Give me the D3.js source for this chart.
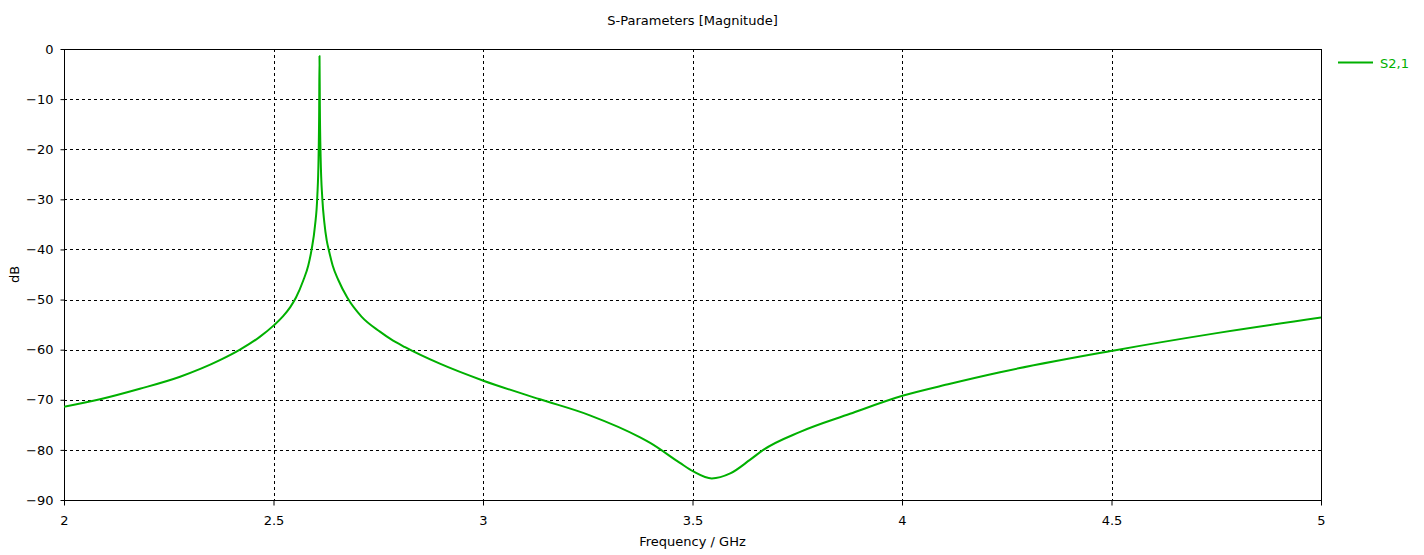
<!DOCTYPE html>
<html>
<head>
<meta charset="utf-8">
<script src="https://cdn.jsdelivr.net/npm/d3@7"></script>
<style>
  html, body { margin: 0; padding: 0; background: #fff; }
  svg text { font-family: "DejaVu Sans", Verdana, sans-serif; font-size: 13px; fill: #000; }
</style>
</head>
<body>
<svg id="chart" width="1424" height="555"></svg>
<script>
const title = "S-Parameters [Magnitude]";
const xLabel = "Frequency / GHz";
const yLabel = "dB";
const seriesName = "S2,1";
const xTicks = [2, 2.5, 3, 3.5, 4, 4.5, 5];
const yTicks = [0, -10, -20, -30, -40, -50, -60, -70, -80, -90];

const freqGHz = [
  2.000, 2.086, 2.181, 2.277, 2.372, 2.420, 2.468, 2.500, 2.523, 2.540,
  2.5537, 2.571, 2.583, 2.591, 2.599, 2.6045, 2.6075, 2.609, 2.6098, 2.6106,
  2.6125, 2.6165, 2.6213, 2.627, 2.6325, 2.6412, 2.6547, 2.676, 2.710, 2.754,
  2.780, 2.814, 2.897, 3.001, 3.136, 3.255, 3.375, 3.399, 3.470, 3.502,
  3.546, 3.590, 3.637, 3.669, 3.757, 3.876, 4.001, 4.115, 4.234, 4.503,
  4.751, 5.000
];
const s21dB = [
  -71.4, -69.9, -67.8, -65.4, -62.1, -60.0, -57.4, -55.2, -53.3, -51.5,
  -49.6, -46.2, -43.2, -40.0, -35.3, -29.5, -21.8, -12.3, -1.4, -11.2,
  -21.6, -29.8, -34.6, -38.2, -40.3, -43.2, -46.1, -49.6, -53.4, -56.4,
  -57.9, -59.5, -62.8, -66.2, -69.9, -73.1, -77.5, -78.6, -82.6, -84.3,
  -85.7, -84.7, -82.0, -80.0, -76.4, -72.8, -69.2, -66.8, -64.5, -60.2,
  -56.7, -53.6
];

const svg = d3.select("#chart");
const W = 1424, H = 555;
const margin = { left: 64, top: 49, right: W - 1321, bottom: H - 500 };
const x = d3.scaleLinear().domain([2, 5]).range([margin.left, W - margin.right]);
const y = d3.scaleLinear().domain([-90, 0]).range([H - margin.bottom, margin.top]);

// grid
const grid = svg.append("g");
grid.selectAll(".vg").data(xTicks.slice(1, -1)).enter().append("line")
  .attr("x1", d => Math.round(x(d)) + 0.5).attr("x2", d => Math.round(x(d)) + 0.5)
  .attr("y1", y(0)).attr("y2", y(-90))
  .attr("stroke", "#000").attr("stroke-width", 1).attr("stroke-dasharray", "3,3");
grid.selectAll(".hg").data(yTicks.slice(1, -1)).enter().append("line")
  .attr("y1", d => Math.round(y(d)) + 0.5).attr("y2", d => Math.round(y(d)) + 0.5)
  .attr("x1", x(2)).attr("x2", x(5))
  .attr("stroke", "#000").attr("stroke-width", 1).attr("stroke-dasharray", "3,3");

// axes
const xAxis = d3.axisBottom(x).tickValues(xTicks).tickFormat(d3.format("")).tickSize(5).tickPadding(10);
const yAxis = d3.axisLeft(y).tickValues(yTicks).tickFormat(d3.format("")).tickSize(4).tickPadding(7);
const gx = svg.append("g").attr("transform", `translate(0,${y(-90) + 0.5})`).call(xAxis);
const gy = svg.append("g").attr("transform", `translate(${x(2) + 0.5},0)`).call(yAxis);
[gx, gy].forEach(g => {
  g.select(".domain").remove();
  g.selectAll("line").attr("stroke", "#000");
  g.selectAll("text").attr("font-family", "DejaVu Sans").attr("font-size", 13).attr("fill", "#000");
});

// frame
svg.append("rect")
  .attr("x", x(2) + 0.5).attr("y", y(0) + 0.5)
  .attr("width", x(5) - x(2)).attr("height", y(-90) - y(0))
  .attr("fill", "none").attr("stroke", "#000").attr("stroke-width", 1);

// clip
svg.append("clipPath").attr("id", "clip").append("rect")
  .attr("x", x(2)).attr("y", y(0)).attr("width", x(5) - x(2)).attr("height", y(-90) - y(0));

const data = freqGHz.map((f, i) => [f, s21dB[i]]);
const line = d3.line().x(d => x(d[0])).y(d => y(d[1])).curve(d3.curveMonotoneX);
svg.append("path").datum(data)
  .attr("clip-path", "url(#clip)")
  .attr("d", line).attr("fill", "none")
  .attr("stroke", "#00b000").attr("stroke-width", 2).attr("stroke-linejoin", "round");

// titles
svg.append("text").attr("x", (x(2) + x(5)) / 2).attr("y", 25)
  .attr("text-anchor", "middle").text(title);
svg.append("text").attr("x", (x(2) + x(5)) / 2).attr("y", 546)
  .attr("text-anchor", "middle").text(xLabel);
svg.append("text").attr("transform", `translate(19,${(y(0) + y(-90)) / 2}) rotate(-90)`)
  .attr("text-anchor", "middle").text(yLabel);

// legend
const lg = svg.append("g");
lg.append("line").attr("x1", 1338).attr("x2", 1373).attr("y1", 62.5).attr("y2", 62.5)
  .attr("stroke", "#00b000").attr("stroke-width", 2);
lg.append("text").attr("x", 1380).attr("y", 68).style("fill", "#00b000").text(seriesName);
</script>
</body>
</html>
